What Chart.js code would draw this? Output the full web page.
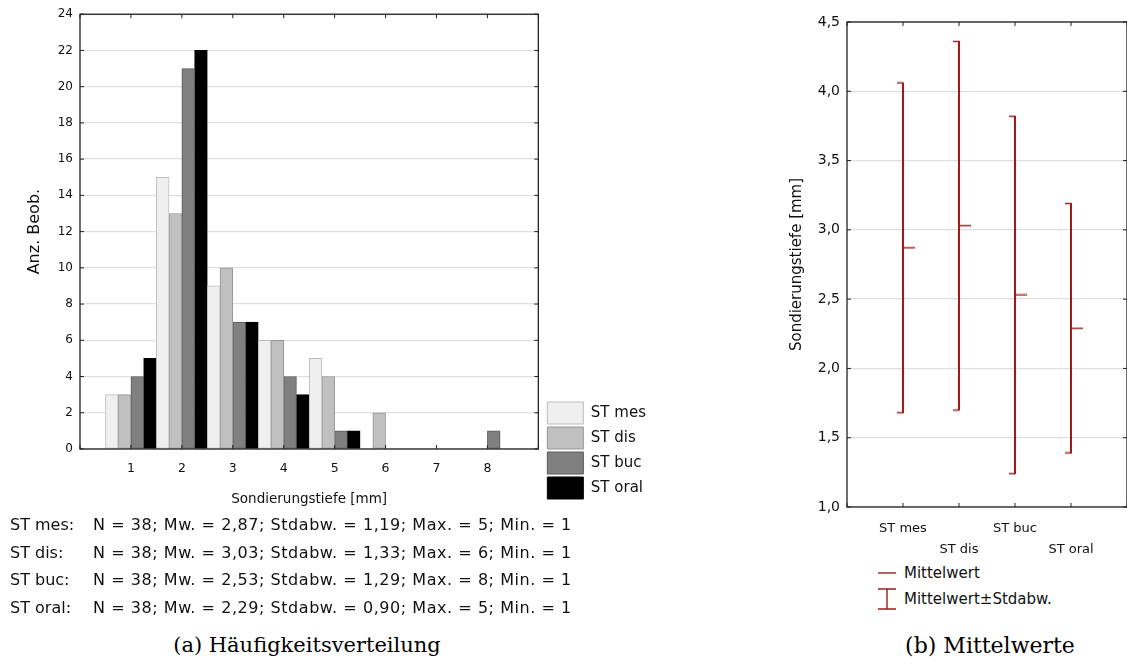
<!DOCTYPE html>
<html>
<head>
<meta charset="utf-8">
<script src="https://cdn.jsdelivr.net/npm/chart.js@4/dist/chart.umd.min.js"></script>
<style>
  body { margin: 0; background: #fff; width: 1127px; height: 668px; overflow: hidden; position: relative; font-family: "DejaVu Sans", sans-serif; color: #111; }
  .box { position: absolute; }
  #leftBox { left: 0; top: 0; width: 651px; height: 512px; }
  #rightBox { left: 770px; top: 0; width: 357px; height: 560px; }
  #stats { left: 10px; top: 511px; font-size: 16px; letter-spacing: 0.55px; line-height: 27.5px; white-space: pre; }
  #stats span.k { display: inline-block; width: 83px; letter-spacing: 0; }
  .cap { position: absolute; top: 633px; font-family: "DejaVu Serif", serif; font-size: 21px; color: #000; text-align: center; }
  #capA { left: 157px; width: 300px; }
  #capB { left: 840px; width: 300px; font-size: 22px; }
  #legB { left: 876px; top: 560px; font-size: 15px; }
  #legB div { height: 26px; line-height: 24px; display: flex; align-items: center; }
  #legB svg { margin-right: 8px; }
</style>
</head>
<body>
<div id="leftBox" class="box"><canvas id="hist"></canvas></div>
<div id="rightBox" class="box"><canvas id="means"></canvas></div>
<div id="stats" class="box"></div>
<div id="legB" class="box">
  <div><svg width="20" height="24"><line x1="2" y1="12" x2="20" y2="12" stroke="#9e1b1b" stroke-width="1.4"/></svg>Mittelwert</div>
  <div><svg width="20" height="24"><path d="M2 2H20M11 2V22M2 22H20" stroke="#9e1b1b" stroke-width="1.4" fill="none"/></svg>Mittelwert±Stdabw.</div>
</div>
<div id="capA" class="cap">(a) Häufigkeitsverteilung</div>
<div id="capB" class="cap">(b) Mittelwerte</div>
<script>
// histogram data (probing depth in mm, counts per site)
const depths = [1, 2, 3, 4, 5, 6, 7, 8];
const stMes  = [3, 15, 9, 6, 5, 0, 0, 0];
const stDis  = [3, 13, 10, 6, 4, 2, 0, 0];
const stBuc  = [4, 21, 7, 4, 1, 0, 0, 1];
const stOral = [5, 22, 7, 3, 1, 0, 0, 0];
const countTicks = [0, 2, 4, 6, 8, 10, 12, 14, 16, 18, 20, 22, 24];

// mean / sd per site
const sites = ['ST mes', 'ST dis', 'ST buc', 'ST oral'];
const means = [2.87, 3.03, 2.53, 2.29];
const sds   = [1.19, 1.33, 1.29, 0.90];
const nObs  = [38, 38, 38, 38];
const maxs  = [5, 6, 8, 5];
const mins  = [1, 1, 1, 1];
const meanTicks = [1.0, 1.5, 2.0, 2.5, 3.0, 3.5, 4.0, 4.5];

const RED = '#9e1b1b';
Chart.defaults.font.family = '"DejaVu Sans", sans-serif';
Chart.defaults.color = '#111';
Chart.defaults.animation = false;

const de = v => v.toFixed(2).replace('.', ',');

// stats text under histogram
document.getElementById('stats').innerHTML = sites.map((s, i) =>
  '<div><span class="k">' + s + ':</span>N = ' + nObs[i] + '; Mw. = ' + de(means[i]) +
  '; Stdabw. = ' + de(sds[i]) + '; Max. = ' + maxs[i] + '; Min. = ' + mins[i] + '</div>').join('');

// frame around plot area with small inward ticks
const frame = {
  id: 'frame',
  afterDraw(chart) {
    const {ctx, chartArea: a, scales} = chart;
    ctx.save();
    ctx.strokeStyle = '#222';
    ctx.lineWidth = 1.3;
    ctx.strokeRect(a.left, a.top, a.right - a.left, a.bottom - a.top);
    ctx.lineWidth = 1;
    const tl = 4;
    ctx.beginPath();
    scales.x.ticks.forEach((t, i) => {
      const px = scales.x.getPixelForTick(i);
      ctx.moveTo(px, a.top); ctx.lineTo(px, a.top + tl);
      ctx.moveTo(px, a.bottom); ctx.lineTo(px, a.bottom - tl);
    });
    scales.y.ticks.forEach((t, i) => {
      const py = scales.y.getPixelForTick(i);
      ctx.moveTo(a.left, py); ctx.lineTo(a.left + tl, py);
      ctx.moveTo(a.right, py); ctx.lineTo(a.right - tl, py);
    });
    ctx.stroke();
    ctx.restore();
  }
};

// pad so that the category axis runs one step past each end
const pad = arr => [null, ...arr, null];

new Chart(document.getElementById('hist'), {
  type: 'bar',
  data: {
    labels: pad(depths.map(String)).map(l => l || ''),
    datasets: [
      { label: 'ST mes',  data: pad(stMes),  backgroundColor: '#efefef', borderColor: '#bdbdbd' },
      { label: 'ST dis',  data: pad(stDis),  backgroundColor: '#c0c0c0', borderColor: '#959595' },
      { label: 'ST buc',  data: pad(stBuc),  backgroundColor: '#808080', borderColor: '#585858' },
      { label: 'ST oral', data: pad(stOral), backgroundColor: '#000000', borderColor: '#000000' }
    ]
  },
  options: {
    responsive: true,
    maintainAspectRatio: false,
    datasets: { bar: { categoryPercentage: 1, barPercentage: 1, borderWidth: 1, borderSkipped: false } },
    layout: { padding: { top: 14, left: 21, right: 2, bottom: 10 } },
    scales: {
      x: {
        type: 'category',
        offset: false,
        grid: { display: false },
        border: { display: false },
        ticks: { font: { size: 12.5 }, padding: 4, autoSkip: false, maxRotation: 0 },
        title: { display: true, text: 'Sondierungstiefe [mm]', font: { size: 13.5 }, padding: { top: 0, bottom: -6 } },
        afterFit: s => { s.height = 53; }
      },
      y: {
        min: countTicks[0],
        max: countTicks[countTicks.length - 1],
        afterBuildTicks: s => { s.ticks = countTicks.map(v => ({ value: v })); },
        grid: { color: '#e0e0e0', lineWidth: 1.3, drawTicks: false },
        border: { display: false },
        ticks: { font: { size: 12 }, padding: 7 },
        title: { display: true, text: 'Anz. Beob.', font: { size: 16 } },
        afterFit: s => { s.width = 59; }
      },
      gap: {
        position: 'right',
        display: true,
        grid: { display: false },
        border: { display: false },
        ticks: { display: false },
        afterFit: s => { s.width = 6; }
      }
    },
    plugins: {
      legend: {
        position: 'right',
        align: 'end',
        labels: { boxWidth: 36, boxHeight: 22, padding: 3, font: { size: 15 }, color: '#111' }
      },
      tooltip: { enabled: false }
    }
  },
  plugins: [frame]
});

// point images: mean tick to the right, caps to the left of the bar
function tickImage(w, from, to) {
  const c = document.createElement('canvas');
  c.width = w; c.height = 3;
  const g = c.getContext('2d');
  g.fillStyle = RED;
  g.fillRect(from, 0.8, to - from, 1.4);
  return c;
}
const meanMark = tickImage(26, 13, 25);
const capMark = tickImage(14, 1, 7.6);

const ptBase = { type: 'line', showLine: false, pointRadius: 4, pointHoverRadius: 4 };

new Chart(document.getElementById('means'), {
  type: 'bar',
  data: {
    labels: pad(sites).map(l => l || ''),
    datasets: [
      { label: 'range', data: pad(means.map((m, i) => [m - sds[i], m + sds[i]])),
        backgroundColor: RED, borderWidth: 0, barThickness: 1.4 },
      { ...ptBase, label: 'Mittelwert', data: pad(means), pointStyle: meanMark },
      { ...ptBase, label: 'upper', data: pad(means.map((m, i) => m + sds[i])), pointStyle: capMark },
      { ...ptBase, label: 'lower', data: pad(means.map((m, i) => m - sds[i])), pointStyle: capMark }
    ]
  },
  options: {
    responsive: true,
    maintainAspectRatio: false,
    layout: { autoPadding: false, padding: { top: 22, left: 14, right: -4, bottom: 0 } },
    scales: {
      x: {
        type: 'category',
        offset: false,
        grid: { display: false, tickLength: 11 },
        border: { display: false },
        ticks: {
          font: { size: 13, lineHeight: 1.6 }, padding: 0, autoSkip: false, maxRotation: 0,
          callback: function (v, i) {
            const l = this.getLabelForValue(v);
            return i % 2 === 0 ? ['', l] : [l];
          }
        },
        afterFit: s => { s.height = 53; }
      },
      y: {
        min: meanTicks[0],
        max: meanTicks[meanTicks.length - 1],
        afterBuildTicks: s => { s.ticks = meanTicks.map(v => ({ value: v })); },
        grid: { color: '#e0e0e0', lineWidth: 1.3, drawTicks: false },
        border: { display: false },
        ticks: { font: { size: 14 }, padding: 7, callback: v => v.toFixed(1).replace('.', ',') },
        title: { display: true, text: 'Sondierungstiefe [mm]', font: { size: 15 } },
        afterFit: s => { s.width = 63; }
      }
    },
    plugins: { legend: { display: false }, tooltip: { enabled: false } }
  },
  plugins: [frame]
});
</script>
</body>
</html>
